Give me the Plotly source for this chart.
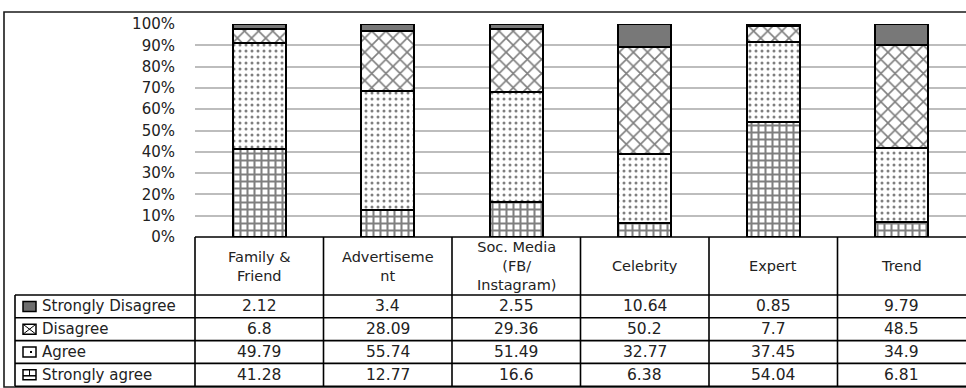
import plotly.graph_objects as go

categories = ["Family & Friend", "Advertisement", "Soc. Media (FB/ Instagram)", "Celebrity", "Expert", "Trend"]
header_labels = ["Family &<br>Friend", "Advertiseme<br>nt", "Soc. Media<br>(FB/<br>Instagram)", "Celebrity", "Expert", "Trend"]

strongly_disagree = [2.12, 3.4, 2.55, 10.64, 0.85, 9.79]
disagree = [6.8, 28.09, 29.36, 50.2, 7.7, 48.5]
agree = [49.79, 55.74, 51.49, 32.77, 37.45, 34.9]
strongly_agree = [41.28, 12.77, 16.6, 6.38, 54.04, 6.81]

series_names = ["Strongly Disagree", "Disagree", "Agree", "Strongly agree"]
table_values = [strongly_disagree, disagree, agree, strongly_agree]
tick_vals = [0, 10, 20, 30, 40, 50, 60, 70, 80, 90, 100]

W, H = 966, 388
L, R, T, B = 195, 0, 24, 151
PW = W - L - R
PH = H - T - B

def px(x):
    return (x - L) / PW

def py(y):
    return (H - B - y) / PH

FONT = "DejaVu Sans"
TXT = "#222222"

fig = go.Figure()
x_idx = list(range(len(categories)))

styles = {
    "Strongly agree": dict(color="white", pattern=dict(shape="+", fgcolor="black", bgcolor="white", size=7, solidity=0.5)),
    "Agree": dict(color="white", pattern=dict(shape=".", fgcolor="black", bgcolor="white", size=6, solidity=0.2)),
    "Disagree": dict(color="white", pattern=dict(shape="x", fgcolor="black", bgcolor="white", size=10, solidity=0.3)),
    "Strongly Disagree": dict(color="#787878"),
}
stack = [("Strongly agree", strongly_agree), ("Agree", agree), ("Disagree", disagree), ("Strongly Disagree", strongly_disagree)]
for name, vals in stack:
    fig.add_trace(go.Bar(
        x=x_idx, y=vals, name=name, width=0.41,
        marker=dict(line=dict(color="black", width=2), **styles[name]),
        showlegend=False,
    ))

fig.update_layout(
    barmode="stack", barnorm="percent",
    width=W, height=H,
    margin=dict(l=L, r=R, t=T, b=B, pad=0),
    paper_bgcolor="white", plot_bgcolor="white",
    font=dict(family=FONT, size=14, color=TXT),
)
fig.update_xaxes(range=[-0.5, len(categories) - 0.5], showticklabels=False, showgrid=False, zeroline=False, showline=False)
fig.update_yaxes(range=[0, 100], tickvals=tick_vals, ticktext=[f"{v}%" for v in tick_vals],
                 showgrid=True, gridcolor="#bdbdbd", gridwidth=1.5, zeroline=False, showline=False,
                 ticks="", ticklabelstandoff=19, tickfont=dict(family=FONT, size=15, color=TXT))

shapes = []
ann = []
lw = 1.6
n = len(categories)
# outer frame
shapes.append(dict(type="rect", xref="paper", yref="paper", x0=px(4), x1=px(W + 10), y0=py(387), y1=py(12),
                   line=dict(color="#1a1a1a", width=1.6), fillcolor="rgba(0,0,0,0)", layer="below"))
# table geometry
y_head_top = 237
y_head_bot = 295
row_h = 22.8
y_rows = [y_head_bot + i * row_h for i in range(len(series_names) + 1)]
x_leg = 15
for yy in [y_head_top]:
    shapes.append(dict(type="line", xref="paper", yref="paper", x0=0, x1=1.01, y0=py(yy), y1=py(yy), line=dict(color="black", width=lw)))
for yy in y_rows:
    shapes.append(dict(type="line", xref="paper", yref="paper", x0=px(x_leg), x1=1.01, y0=py(yy), y1=py(yy), line=dict(color="black", width=lw)))
for j in range(n):
    shapes.append(dict(type="line", xref="paper", yref="paper", x0=j / n, x1=j / n, y0=py(y_head_top), y1=py(y_rows[-1]), line=dict(color="black", width=lw)))
shapes.append(dict(type="line", xref="paper", yref="paper", x0=px(x_leg), x1=px(x_leg), y0=py(y_rows[0]), y1=py(y_rows[-1]), line=dict(color="black", width=lw)))

for j, lab in enumerate(header_labels):
    ann.append(dict(xref="paper", yref="paper", x=(j + 0.5) / n, y=py((y_head_top + y_head_bot) / 2), text=lab,
                    showarrow=False, xanchor="center", yanchor="middle", font=dict(family=FONT, size=14.5, color=TXT)))
for i, (name, vals) in enumerate(zip(series_names, table_values)):
    yc = py(y_rows[i] + row_h / 2)
    ann.append(dict(xref="paper", yref="paper", x=px(40), y=yc, text=name, showarrow=False, xanchor="left", yanchor="middle",
                    font=dict(family=FONT, size=15, color=TXT)))
    for j, v in enumerate(vals):
        ann.append(dict(xref="paper", yref="paper", x=(j + 0.5) / n, y=yc, text=f"{v:g}", showarrow=False,
                        xanchor="center", yanchor="middle", font=dict(family=FONT, size=15.5, color=TXT)))
    cy = y_rows[i] + row_h / 2
    x0i, x1i, y0i, y1i = 23, 36, cy - 5, cy + 5
    fill = "#6e6e6e" if name == "Strongly Disagree" else "white"
    shapes.append(dict(type="rect", xref="paper", yref="paper", x0=px(x0i), x1=px(x1i), y0=py(y1i), y1=py(y0i),
                       line=dict(color="black", width=1.5), fillcolor=fill))
    if name == "Disagree":
        shapes.append(dict(type="line", xref="paper", yref="paper", x0=px(x0i), x1=px(x1i), y0=py(y0i), y1=py(y1i), line=dict(color="black", width=1)))
        shapes.append(dict(type="line", xref="paper", yref="paper", x0=px(x0i), x1=px(x1i), y0=py(y1i), y1=py(y0i), line=dict(color="black", width=1)))
    elif name == "Agree":
        shapes.append(dict(type="rect", xref="paper", yref="paper", x0=px(30), x1=px(32), y0=py(cy + 1), y1=py(cy - 1),
                           line=dict(width=0), fillcolor="black"))
    elif name == "Strongly agree":
        shapes.append(dict(type="line", xref="paper", yref="paper", x0=px(x0i), x1=px(x1i), y0=py(cy + 1), y1=py(cy + 1), line=dict(color="black", width=1.5)))
        shapes.append(dict(type="line", xref="paper", yref="paper", x0=px(29.5), x1=px(29.5), y0=py(cy + 1), y1=py(y0i), line=dict(color="black", width=1)))

fig.update_layout(shapes=shapes, annotations=ann)
fig.write_html("out.html")
